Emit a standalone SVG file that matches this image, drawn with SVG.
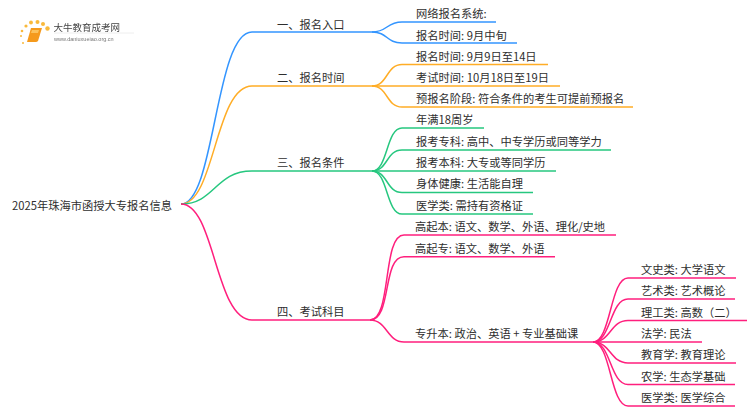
<svg xmlns="http://www.w3.org/2000/svg" width="750" height="410" viewBox="0 0 750 410">
<style>
text{font-family:"Noto Sans CJK SC","Noto Sans",sans-serif;font-size:11.25px;fill:#2e2e2e}
.c path{fill:none;stroke-width:1.5}
.b path{stroke:#3395ff}.o path{stroke:#ffad26}.g path{stroke:#26c77f}.p path{stroke:#ff1f7d}
text.u{font-size:5.5px;fill:#777;font-family:"Liberation Sans",sans-serif}
text.l{font-size:9.5px;fill:#444}
</style>
<defs><filter id="s"><feGaussianBlur stdDeviation="0.35"/></filter></defs>
<rect width="750" height="410" fill="#fff"/>
<g id="logo">
<g filter="url(#s)">
<g fill="#f9b93a"><circle cx="23" cy="43" r="1"/><circle cx="21" cy="36" r="1"/><circle cx="22" cy="31" r="1.3"/><circle cx="26" cy="26" r="1.6"/><circle cx="31" cy="22.500" r="1.900"/><circle cx="37.500" cy="22" r="2"/><circle cx="43" cy="24" r="2"/><circle cx="47.500" cy="28.500" r="2.200"/></g>
<path d="M31 28h11l-4 13q-1 1-2 1H27z" fill="#f59a1f"/><path d="M32 30h7l-1 3h-7z" fill="#fbc25c"/>
<path d="M54 33h80" stroke="#eee" stroke-width="1"/>
<text class="l" x="53.500" y="31">大牛教育成考网</text><text class="u" x="54" y="41">www.daniuxueiao.org.cn</text>
</g></g>
<g id="connectors" class="c">
<g class="b"><path d="M181 204C215 204 215 32 252 32H372"/><path d="M372 32C388 32 386 22 402 22H496"/><path d="M372 32C388 32 386 43 402 43H517"/></g>
<g class="o"><path d="M181 204C215 204 215 86 252 86H372"/><path d="M372 86C388 86 386 64.500 402 64.500H548"/><path d="M372 86H560"/><path d="M372 86C388 86 386 107 402 107H633"/></g>
<g class="g"><path d="M181 204C215 204 215 171 252 171H372"/><path d="M372 171C388 171 386 128 402 128H484"/><path d="M372 171C388 171 386 150 402 150H611"/><path d="M372 171H556"/><path d="M372 171C388 171 386 192.500 402 192.500H533"/><path d="M372 171C388 171 386 214 402 214H533"/></g>
<g class="p"><path d="M181 204C215 204 215 320 252 320H370"/><path d="M370 320C392 320 382 235 404 235H616"/><path d="M370 320C392 320 382 256.700 404 256.700H555"/><path d="M370 320C387 320 387 342 404 342H593"/>
<path d="M593 342C611 342 610 278 628 278H736"/><path d="M593 342C611 342 610 299 628 299H735"/><path d="M593 342C611 342 610 320.500 628 320.500H747"/><path d="M593 342H702"/><path d="M593 342C611 342 610 363 628 363H736"/><path d="M593 342C611 342 610 384.500 628 384.500H735"/><path d="M593 342C611 342 610 406 628 406H735"/></g>
</g>
<g id="root"><text x="12" y="209.500">2025年珠海市函授大专报名信息</text></g>
<g id="n1"><text x="277" y="28.500">一、报名入口</text></g>
<g id="n1-1"><text x="416" y="18">网络报名系统:</text></g>
<g id="n1-2"><text x="416" y="39.500">报名时间: 9月中旬</text></g>
<g id="n2"><text x="277" y="81.500">二、报名时间</text></g>
<g id="n2-1"><text x="416" y="60.500">报名时间: 9月9日至14日</text></g>
<g id="n2-2"><text x="416" y="81.500">考试时间: 10月18日至19日</text></g>
<g id="n2-3"><text x="416" y="103">预报名阶段: 符合条件的考生可提前预报名</text></g>
<g id="n3"><text x="277" y="166.500">三、报名条件</text></g>
<g id="n3-1"><text x="416" y="124">年满18周岁</text></g>
<g id="n3-2"><text x="416" y="145.500">报考专科: 高中、中专学历或同等学力</text></g>
<g id="n3-3"><text x="416" y="167">报考本科: 大专或等同学历</text></g>
<g id="n3-4"><text x="416" y="188">身体健康: 生活能自理</text></g>
<g id="n3-5"><text x="416" y="209.500">医学类: 需持有资格证</text></g>
<g id="n4"><text x="277" y="316">四、考试科目</text></g>
<g id="n4-1"><text x="415" y="231">高起本: 语文、数学、外语、理化/史地</text></g>
<g id="n4-2"><text x="415" y="252.500">高起专: 语文、数学、外语</text></g>
<g id="n4-3"><text x="415" y="338">专升本: 政治、英语 + 专业基础课</text></g>
<g id="n5-1"><text x="641" y="274">文史类: 大学语文</text></g>
<g id="n5-2"><text x="641" y="295">艺术类: 艺术概论</text></g>
<g id="n5-3"><text x="641" y="316.500">理工类: 高数（二）</text></g>
<g id="n5-4"><text x="641" y="338">法学: 民法</text></g>
<g id="n5-5"><text x="641" y="359">教育学: 教育理论</text></g>
<g id="n5-6"><text x="641" y="380.500">农学: 生态学基础</text></g>
<g id="n5-7"><text x="641" y="402">医学类: 医学综合</text></g>
</svg>
